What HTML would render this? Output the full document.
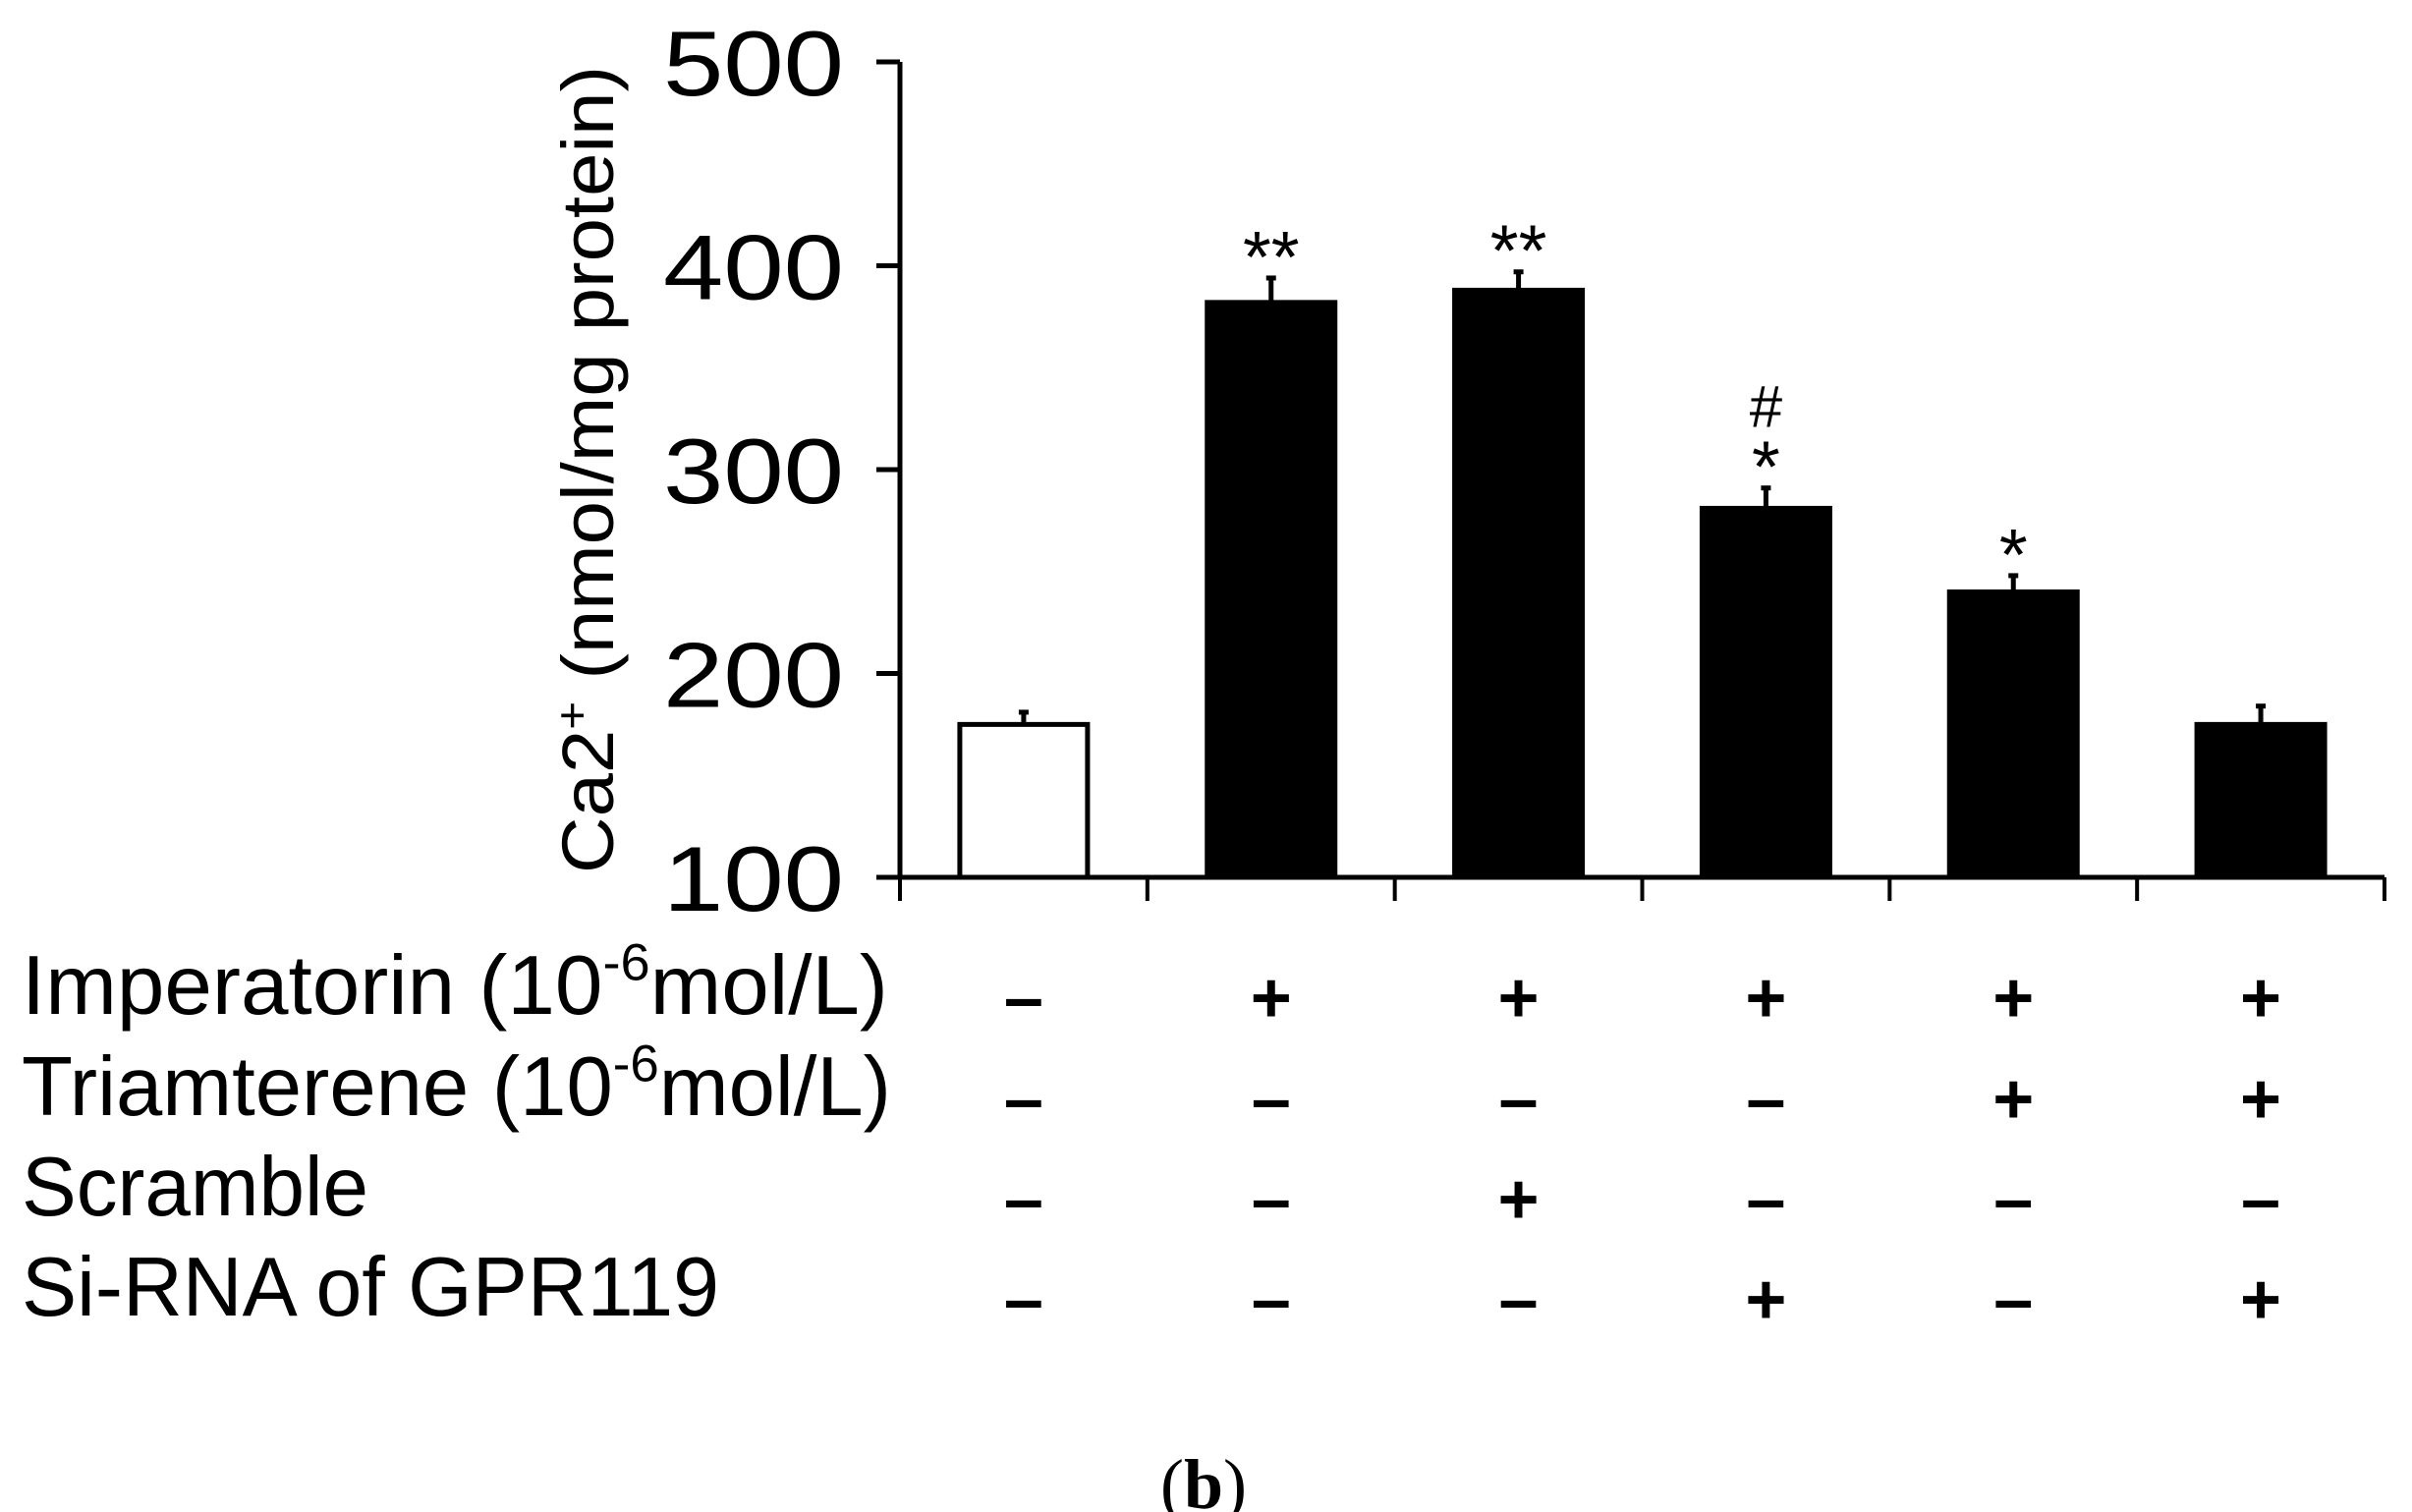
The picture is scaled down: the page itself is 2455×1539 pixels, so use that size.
<!DOCTYPE html>
<html><head><meta charset="utf-8"><style>
html,body{margin:0;padding:0;background:#fff;}
svg{display:block;font-family:"Liberation Sans",sans-serif;}
</style></head><body>
<svg id="chart" width="2455" height="1539" viewBox="0 0 2455 1539" xmlns="http://www.w3.org/2000/svg"></svg>
<script>
const categories = ["Control","Imperatorin","Imperatorin+Scramble","Imperatorin+siRNA","Imperatorin+Triamterene","Imperatorin+Triamterene+siRNA"];
const values = [175, 382, 388, 281, 240, 175];
const errors = [6, 12, 9, 10, 8, 9];
const fills = ["#fff","#000","#000","#000","#000","#000"];
const sigLabels = [[], ["**"], ["**"], ["*","#"], ["*"], []];
const yTicks = [100, 200, 300, 400, 500];
const rowLabels = ["Imperatorin (10","Triamterene (10","Scramble","Si-RNA of GPR119"];
const rowSigns = [
  ["-","+","+","+","+","+"],
  ["-","-","-","-","+","+"],
  ["-","-","+","-","-","-"],
  ["-","-","-","+","-","+"]
];

const svg = document.getElementById('chart');
const NS = "http://www.w3.org/2000/svg";
const X0 = 916, X1 = 2427, Y0 = 893, Y1 = 63, VMIN = 100, VMAX = 500;
const catW = (X1 - X0) / categories.length;
const barW = 130;
function y(v){ return Y0 - (v - VMIN) / (VMAX - VMIN) * (Y0 - Y1); }
function xc(i){ return X0 + catW * (i + 0.5); }
function mk(tag, attrs, parent){
  const e = document.createElementNS(NS, tag);
  for (const k in attrs) e.setAttribute(k, attrs[k]);
  (parent || svg).appendChild(e);
  return e;
}

const yAxis = mk('line', {x1:X0, y1:Y1, x2:X0, y2:Y0, stroke:'#000', 'stroke-width':5});


const xAxis = mk('line', {x1:X0-24, y1:Y0, x2:X1, y2:Y0, stroke:'#000', 'stroke-width':5});



yTicks.forEach(t => {
  const tk = mk('line', {x1:X0-24, y1:y(t), x2:X0, y2:y(t), stroke:'#000', 'stroke-width':5});
  
  
  const lb = mk('text', {x:0, y:0, 'font-size':72, textLength:184, lengthAdjust:'spacingAndGlyphs', transform:'translate(675,' + (y(t)+34) + ') scale(1,1.3)'});
  lb.textContent = t;
  
  
});
for (let i = 0; i <= categories.length; i++) {
  const tk = mk('line', {x1:X0 + catW*i, y1:Y0, x2:X0 + catW*i, y2:Y0+24, stroke:'#000', 'stroke-width':4});
  
  
}

const yt = mk('text', {x:0, y:0, 'text-anchor':'middle', 'font-size':74, transform:'translate(624,478) rotate(-90)', textLength:822, lengthAdjust:'spacingAndGlyphs'});


yt.innerHTML = 'Ca2<tspan dy="-26" font-size="46">+</tspan><tspan dy="26"> (nmol/mg protein)</tspan>';

values.forEach((v, i) => {
  const cx = xc(i);
  const top = y(v + errors[i]);
  const eb = mk('line', {x1:cx, y1:top, x2:cx, y2:y(v), stroke:'#000', 'stroke-width':5});
  
  
  const cap = mk('line', {x1:cx-5, y1:top, x2:cx+5, y2:top, stroke:'#000', 'stroke-width':5});
  
  
  const r = mk('rect', {x:cx-barW/2, y:y(v), width:barW, height:Y0-y(v), fill:fills[i], stroke:'#000', 'stroke-width':5});
  
  
  sigLabels[i].forEach((s, j) => {
    const st = mk('text', {x:cx, y:top + 4 - 66*j, 'text-anchor':'middle', 'font-size':s === '#' ? 60 : 74});
    st.textContent = s;
    
    
  });
});

const rowY = [1032, 1135, 1237, 1339];
const rowW = [882, 885, 353, 710];
rowLabels.forEach((l, r) => {
  const t = mk('text', {x:0, y:0, 'font-size':74, textLength:rowW[r], lengthAdjust:'spacingAndGlyphs', transform:'translate(22,' + rowY[r] + ') scale(1,1.15)'});
  if (r < 2) {
    t.innerHTML = l + '<tspan dy="-30" font-size="46">-6</tspan><tspan dy="30">mol/L)</tspan>';
  } else {
    t.textContent = l;
  }
  
  
  rowSigns[r].forEach((s, i) => {
    const st = mk('text', {x:xc(i), y:rowY[r] + 8, 'text-anchor':'middle', 'font-size':72, 'font-weight':'bold'});
    st.textContent = s === '+' ? '+' : '\u2013';
    
    
  });
});

const cap = mk('text', {x:1225, y:1535, 'text-anchor':'middle', 'font-size':72, 'font-family':'"Liberation Serif",serif'});
cap.innerHTML = '(<tspan font-weight="bold">b</tspan>)';


</script>
</body></html>
